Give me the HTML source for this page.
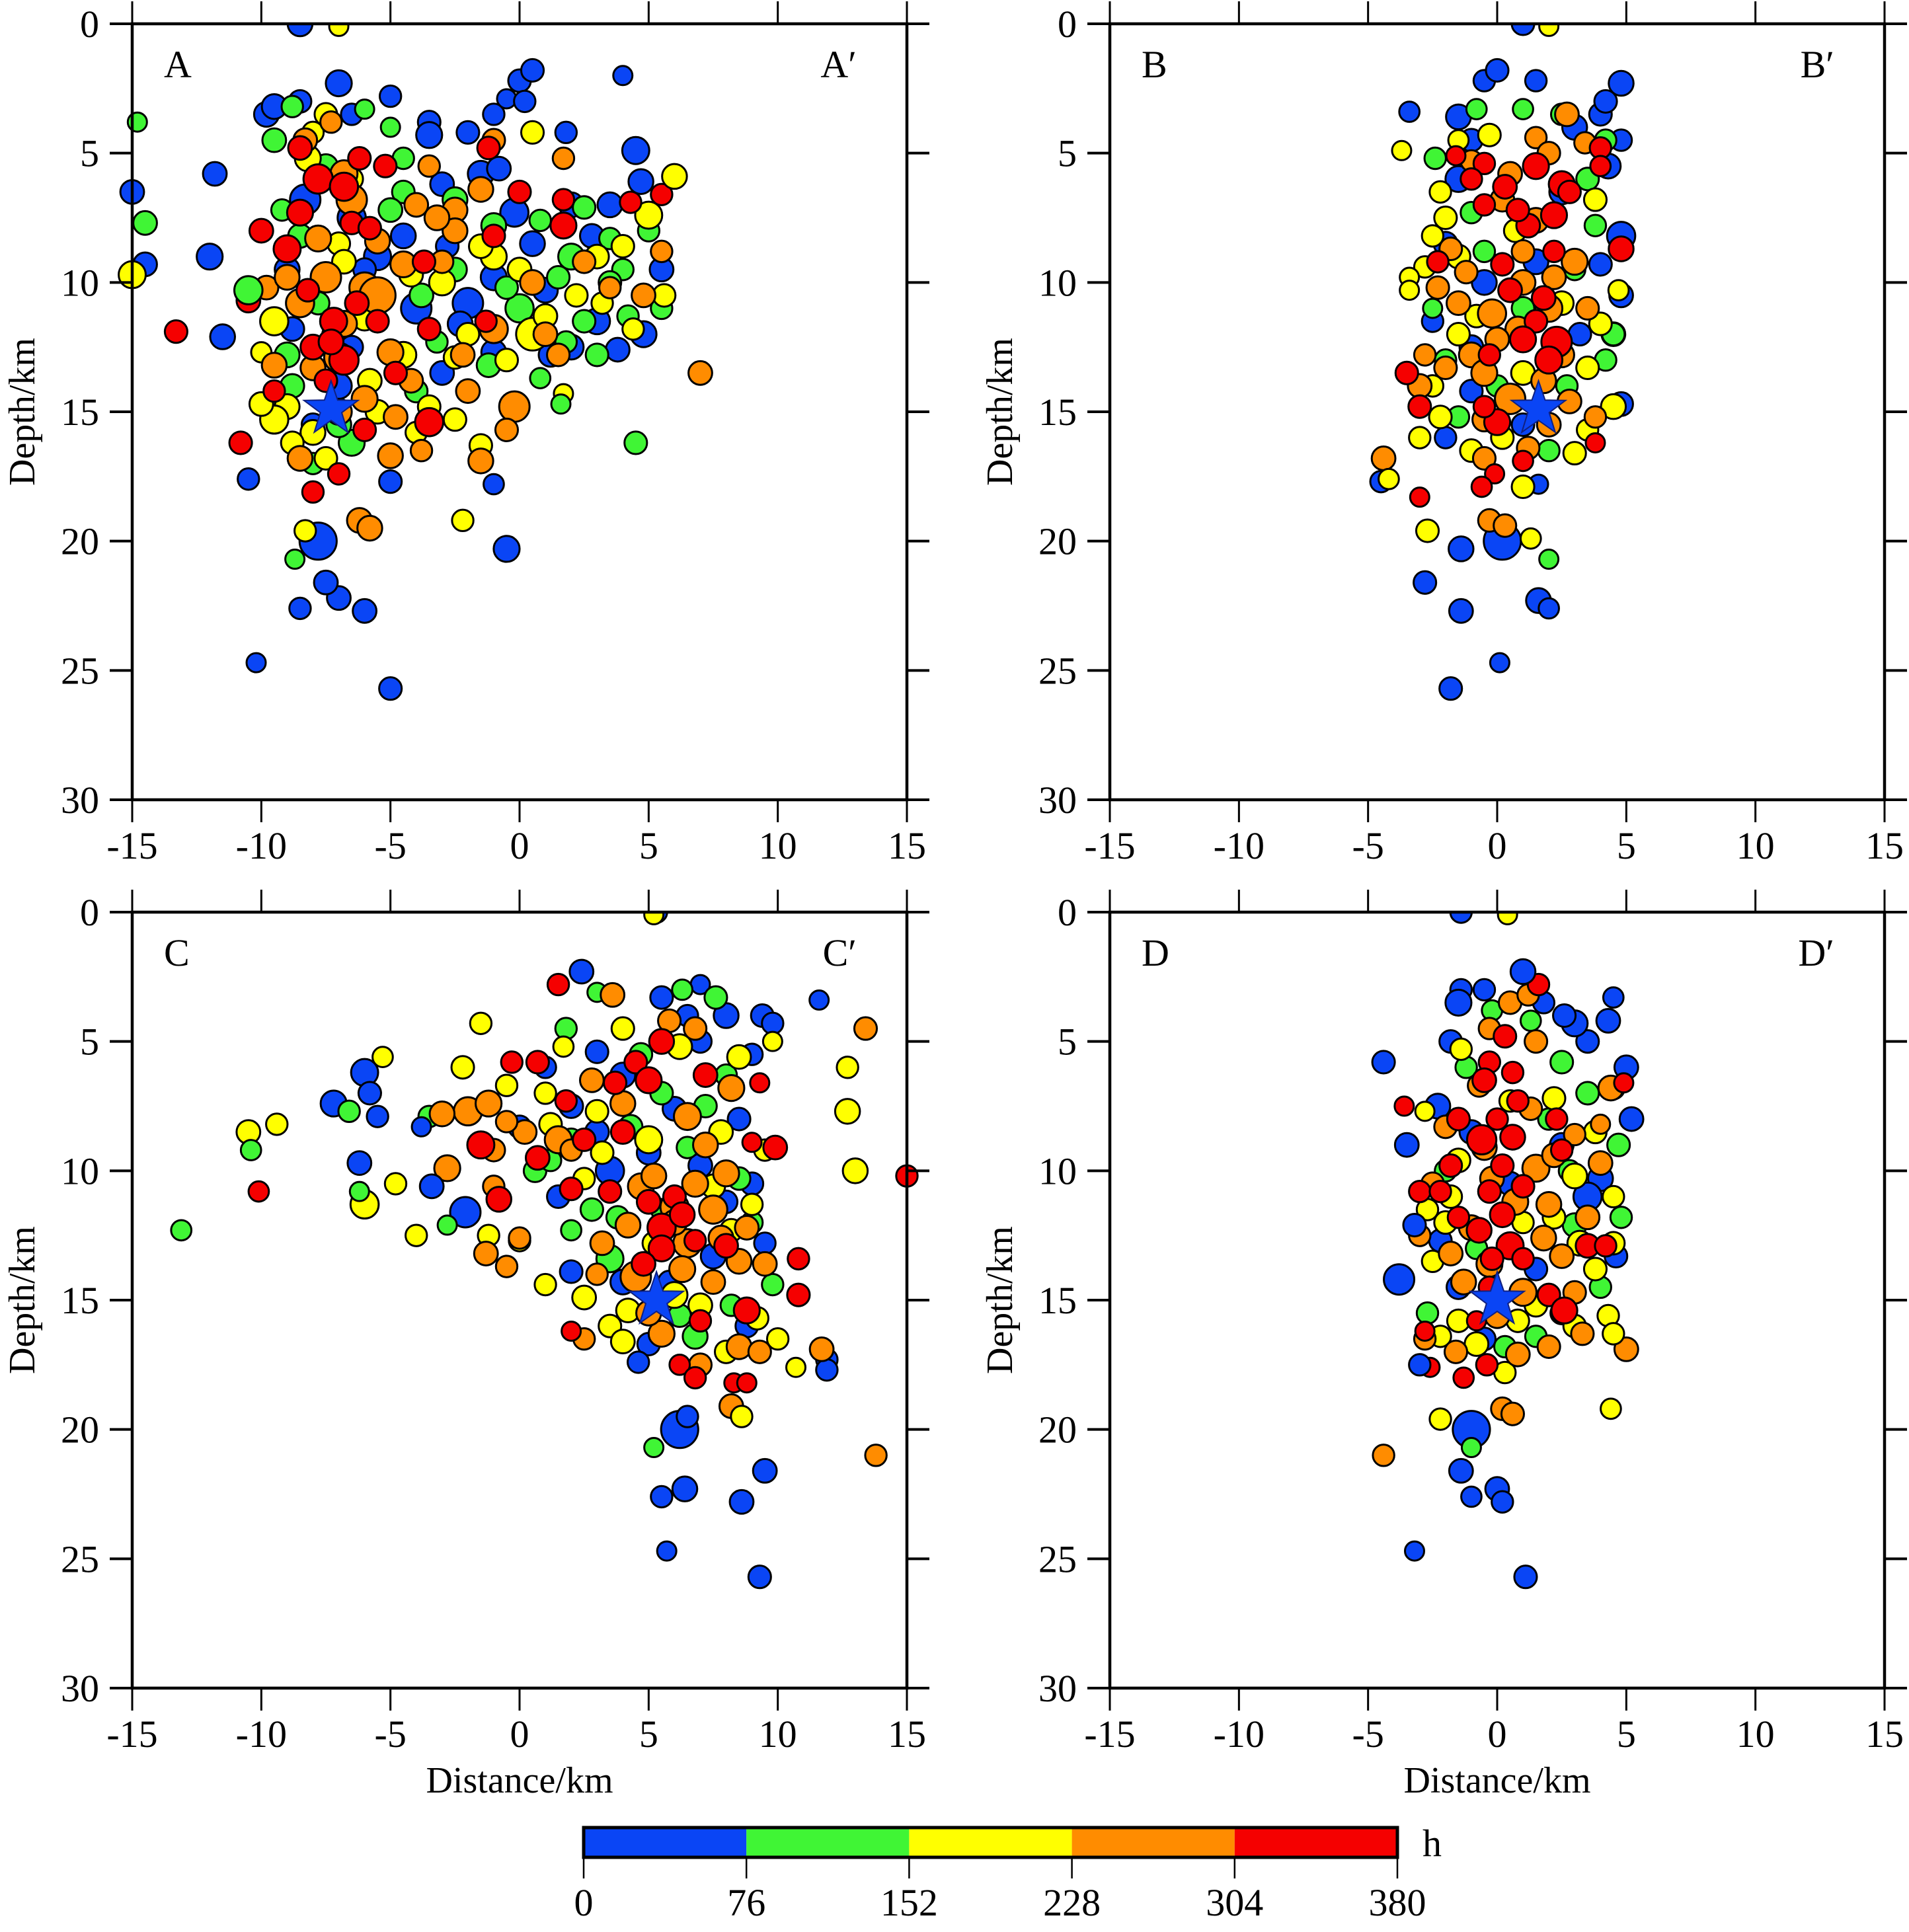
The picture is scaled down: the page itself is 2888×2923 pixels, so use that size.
<!DOCTYPE html>
<html><head><meta charset="utf-8"><style>
html,body{margin:0;padding:0;background:#fff;}
svg text{font-family:"Liberation Serif",serif;fill:#000;}
</style></head><body>
<svg id="fig" width="2888" height="2918" viewBox="0 0 2888 2918" xmlns="http://www.w3.org/2000/svg"></svg>
<script>
const xTicks=[-15,-10,-5,0,5,10,15];
const yTicks=[0,5,10,15,20,25,30];
const colorBreaks=[0,76,152,228,304,380];
const colorNames=["#0a45f5","#40f535","#ffff00","#ff8c00","#f50000"];
const panelNames=["A","B","C","D"];
const eventsA=[
[-9.8,3.5,40,1.5],[-9.5,3.2,40,1.5],[-8.5,3,40,1.3],[-7,2.3,40,1.6],[-5,2.8,40,1.2],[-6.5,3.5,40,1.2],[-3.5,3.8,40,1.3],[-3.5,4.3,40,1.6],[-2,4.2,40,1.3],[-1,3.5,40,1.2],[-0.5,2.9,40,1],[0,2.2,40,1.3],[0.5,1.8,40,1.3],[0.2,3,40,1.2],[1.8,4.2,40,1.2],[4,2,40,1],[4.5,4.9,40,1.7],[4.7,6.1,40,1.5],[5.5,9.5,40,1.4],[4.8,12,40,1.6],[2,12.5,40,1.5],[-1,12.7,40,1.5],[-4,11,40,2],[-5.5,9,40,1.7],[-8.3,6.8,40,2],[-6.5,7.5,40,1.8],[-1.5,5.8,40,1.6],[-0.2,7.3,40,1.8],[2,7,40,1.5],[3.5,7,40,1.5],[-2,10.8,40,2],[1,10.3,40,1.5],[3,11.5,40,1.6],[-9,9.5,40,1.5],[-8,15.5,40,1.3],[-5,17.7,40,1.3],[-3,13.5,40,1.4],[-7,14,40,1.6],
[-4.5,8.2,40,1.5],[-3,6.2,40,1.4],[-1,9.8,40,1.6],[0.5,8.5,40,1.5],[2.8,8.2,40,1.4],[-6,9.5,40,1.3],[-8.8,11.8,40,1.4],[-6.5,12.5,40,1.3],[-2.3,11.6,40,1.5],[1.2,12.8,40,1.4],[3.8,12.6,40,1.4],[-0.8,5.6,40,1.4],[-2.8,8.6,40,1.3],
[-9.5,4.5,115,1.4],[-8.8,3.2,115,1.2],[-6,3.3,115,1],[-5,4,115,1],[-7.5,5.5,115,1.4],[-4.5,6.5,115,1.3],[-2.5,6.8,115,1.5],[-1,7.8,115,1.5],[0.8,7.6,115,1.2],[2.5,7.1,115,1.3],[3.5,8.3,115,1.2],[4,9.5,115,1.2],[2,9,115,1.6],[3.5,10,115,1.3],[0,11,115,1.8],[2.5,11.5,115,1.3],[4.2,11.3,115,1.2],[1.8,12.3,115,1.2],[-1.2,13.2,115,1.4],[-4,14.2,115,1.3],[-6.5,16.2,115,1.6],[-9,12.8,115,1.5],[-9.2,7.2,115,1.2],[-5.5,10.8,115,1.4],[-2.5,9.5,115,1.4],[5,8,115,1.2],[5.5,11,115,1.2],[-7.2,12,115,1.3],[-3.2,12.3,115,1.2],[0.8,13.7,115,1.1],[-8,17,115,1.2],
[-8.5,8.2,115,1.4],[-7.8,10.8,115,1.3],[-5,7.2,115,1.4],[-3.8,10.5,115,1.4],[-0.5,10.2,115,1.3],[1.5,9.8,115,1.3],[3,12.8,115,1.3],[-8.8,14,115,1.4],[-7,15.5,115,1.5],[-4.5,5.2,115,1.2],
[-9,14.8,190,1.5],[-9.5,15.3,190,1.8],[-10,14.7,190,1.4],[-8,15.8,190,1.5],[-5.5,15,190,1.4],[-4,15.8,190,1.2],[-2.5,15.3,190,1.3],[-1.5,16.3,190,1.3],[-9.5,11.5,190,1.8],[-10,12.7,190,1.1],[-8.2,5.2,190,1.6],[-8,4.2,190,1.2],[-7.5,3.5,190,1.3],[-6.5,6,190,1.3],[-3,10,190,1.6],[-1,9,190,1.6],[0.5,4.2,190,1.3],[0.5,12,190,2.2],[-0.5,13,190,1.3],[1,11.3,190,1.4],[3,9,190,1.4],[4,8.6,190,1.3],[5,7.4,190,1.7],[5.6,10.5,190,1.3],[4.4,11.8,190,1.2],[-4.5,12.8,190,1.6],[-6,11.4,190,1.4],[-2.5,12.9,190,1.3],[-7,8.5,190,1.3],[-5.8,13.8,190,1.4],[1.7,14.3,190,1],
[-1.5,8.6,190,1.4],[-4.2,9.7,190,1.4],[-6.8,9.2,190,1.4],[-8.8,16.2,190,1.3],[-7.5,16.8,190,1.3],[2.2,10.5,190,1.3],[3.2,10.8,190,1.2],[-2,12,190,1.3],[-3.5,14.8,190,1.3],[0,9.5,190,1.4],
[-8.3,4.5,265,1.4],[-7.3,3.8,265,1.2],[-6.8,5.8,265,1.7],[-6.5,6.8,265,2],[-4,7,265,1.4],[-2.5,7.2,265,1.5],[-1.5,6.4,265,1.5],[-1,4.5,265,1.3],[1.7,5.2,265,1.2],[-7.5,9.8,265,2],[-8.5,10.8,265,1.8],[-6,10.2,265,2],[-5.5,10.5,265,2.5],[-4.5,9.3,265,1.6],[-9.8,10.2,265,1.4],[-9.5,13.2,265,1.5],[-7,12.9,265,1.9],[-5,12.7,265,1.6],[-6,14.5,265,1.6],[-8.5,16.8,265,1.5],[-5,16.7,265,1.5],[-3.8,16.5,265,1.2],[-2,14.2,265,1.4],[-1,11.8,265,1.8],[0.5,10,265,1.5],[1.5,12.8,265,1.3],[2.5,9.2,265,1.3],[-3,9.2,265,1.3],[-0.2,14.8,265,2],[-0.5,15.7,265,1.3],[-1.5,16.9,265,1.5],[3.5,10.2,265,1.2],[4.8,10.5,265,1.4],[5.5,8.8,265,1.2],[7,13.5,265,1.4],[-6.2,19.2,265,1.5],[-5.8,19.5,265,1.5],[-2.2,12.8,265,1.4],[-3.5,5.5,265,1.2],
[-7.8,8.3,265,1.6],[-5.5,8.4,265,1.5],[-6.8,11.6,265,1.6],[-8,13.3,265,1.5],[-4.2,13.8,265,1.4],[-2.5,8,265,1.5],[-7,15,265,1.6],[-9,9.8,265,1.5],[-3.2,7.5,265,1.5],[1,12,265,1.4],[-4.8,15.2,265,1.4],
[-9,8.7,340,1.7],[-8.5,4.8,340,1.4],[-8.5,7.3,340,1.6],[-7.8,6,340,1.9],[-6.8,6.3,340,1.8],[-6.5,7.7,340,1.3],[-5.8,7.9,340,1.3],[-5.2,5.5,340,1.3],[-10,8,340,1.4],[-10.5,10.7,340,1.4],[-10.8,16.2,340,1.3],[-9.5,14.2,340,1.2],[-8,12.5,340,1.5],[-7.2,11.5,340,1.7],[-6.8,13,340,1.9],[-7.5,13.8,340,1.3],[-6,15.7,340,1.3],[-7,17.4,340,1.2],[-8,18.1,340,1.2],[-3.5,15.4,340,1.8],[-4.8,13.5,340,1.3],[-3.5,11.8,340,1.3],[-3.7,9.2,340,1.3],[-1,8.2,340,1.3],[-1.2,4.8,340,1.3],[0,6.5,340,1.3],[1.7,7.8,340,1.6],[1.7,6.8,340,1.2],[4.3,6.9,340,1.2],[5.5,6.6,340,1.2],[-1.3,11.5,340,1.2],[-6.3,10.8,340,1.4],[-13.3,11.9,340,1.3],
[-7.3,12.3,340,1.5],[-5.5,11.5,340,1.3],[-8.2,10.3,340,1.3],[-6.2,5.2,340,1.3],
[-8.5,0,40,1.5],[-7,0.1,190,1],[-14.8,3.8,115,1],[-15,6.5,40,1.4],[-14.5,7.7,115,1.4],[-14.5,9.3,40,1.4],[-15,9.7,190,1.7],[-11.5,12.1,40,1.5],[-12,9,40,1.6],[-11.8,5.8,40,1.4],[-10.5,10.3,115,1.8],[-10.5,17.6,40,1.2],[-10.2,24.7,40,1],[-5,25.7,40,1.3],[-8.5,22.6,40,1.2],[-6,22.7,40,1.4],[-7,22.2,40,1.4],[-7.5,21.6,40,1.4],[-7.8,20,40,2.6],[-8.3,19.6,190,1.2],[-8.7,20.7,115,1],[-0.5,20.3,40,1.6],[-2.2,19.2,190,1.2],[-1,17.8,40,1.1],[1.6,14.7,115,1],[4.5,16.2,115,1.3],[6,5.9,190,1.5]];
const eventsB=[
[-1.5,3.6,40,1.5],[-0.5,2.2,40,1.2],[0,1.8,40,1.3],[1.5,2.2,40,1.2],[-1,4.5,40,1.3],[3,4,40,1.5],[4,3.5,40,1.3],[4.8,4.5,40,1.2],[4.3,5.5,40,1.5],[4.8,8.2,40,1.8],[4,9.3,40,1.3],[4.8,10.5,40,1.4],[4.5,12,40,1.4],[4.8,14.7,40,1.4],[-1.5,6,40,1.6],[-2,8.5,40,1.4],[-0.5,10,40,1.5],[1.5,9.2,40,1.5],[2.5,6.5,40,1.5],[-2.5,11.5,40,1.2],[-1,14.2,40,1.3],[1,15.5,40,1.3],[3.2,12,40,1.3],[-1,12.5,40,1.4],[-2,16,40,1.2],
[-0.8,3.3,115,1.1],[1,3.3,115,1.1],[2.5,3.5,115,1.2],[4.2,4.5,115,1.2],[3.5,6,115,1.3],[-2.4,5.2,115,1.2],[-1,7.3,115,1.2],[3,9.5,115,1.2],[4.2,13,115,1.2],[4.5,12,115,1.3],[-2.5,11,115,1],[-2,13,115,1.2],[0,14,115,1.2],[2,16.5,115,1.2],[-1.5,15.2,115,1.2],[1,11,115,1.3],[-0.5,8.8,115,1.2],[3.8,7.8,115,1.2],[2.7,14,115,1.2],
[-1.5,4.5,190,1.1],[-2,7.5,190,1.3],[-2.5,8.2,190,1.2],[-1.5,9,190,1.4],[-2.8,9.4,190,1.2],[-0.3,4.3,190,1.3],[0.7,8,190,1.3],[2.5,10.8,190,1.4],[4.7,10.3,190,1.1],[4.5,14.8,190,1.5],[4,11.6,190,1.3],[-2.5,14,190,1.2],[-3,16,190,1.2],[-2.2,15.2,190,1.3],[-1,16.5,190,1.3],[3.5,15.7,190,1.2],[3,16.6,190,1.3],[1,13.5,190,1.4],[-1.5,12,190,1.3],[2.4,12.3,190,1.3],
[3.5,13.3,190,1.3],[-0.8,11.3,190,1.3],[3.8,6.8,190,1.3],[-2.2,6.5,190,1.2],[0.2,16,190,1.3],
[2.7,3.5,265,1.4],[1.5,4.4,265,1.2],[0.5,5.8,265,1.4],[2,5,265,1.3],[3.4,4.6,265,1.2],[-1,5.3,265,1.2],[0.2,6.8,265,1.4],[1.5,7.6,265,1.5],[3,9.2,265,1.6],[-0.2,11.2,265,1.8],[1,10,265,1.5],[2,11,265,1.7],[-1.5,10.8,265,1.4],[-1,12.8,265,1.5],[0.5,14.5,265,2],[-0.5,13.5,265,1.6],[2.5,12.8,265,1.5],[-2,13.3,265,1.3],[-2.8,12.8,265,1.2],[-3,14,265,1.4],[2,15.5,265,1.4],[3.8,15.2,265,1.2],[1.2,16.4,265,1.3],[-0.5,16.8,265,1.3],[3.5,11,265,1.3],[-1.8,8.7,265,1.3],[-0.5,15.3,265,1.4],
[0.8,11.8,265,1.5],[1.8,13.8,265,1.5],[-1.2,9.6,265,1.3],[2.2,9.8,265,1.4],[0,12.2,265,1.4],[2.8,14.6,265,1.4],[-2.3,10.2,265,1.3],[1,8.8,265,1.3],
[-1.6,5.1,340,1],[-0.5,5.4,340,1.2],[1.5,5.5,340,1.6],[2.5,6.2,340,1.6],[0.3,6.3,340,1.4],[-0.5,7,340,1.2],[1.2,7.8,340,1.4],[2.2,7.4,340,1.6],[4,4.8,340,1.2],[4,5.5,340,1.1],[4.8,8.7,340,1.5],[-2.3,9.2,340,1.2],[0.2,9.3,340,1.3],[2.2,8.8,340,1.2],[0.5,10.3,340,1.4],[1.5,11.5,340,1.3],[2.3,12.3,340,2],[1,12.2,340,1.6],[-0.3,12.8,340,1.2],[2,13,340,1.7],[-3.5,13.5,340,1.3],[-3,14.8,340,1.3],[0,15.4,340,1.6],[-0.5,14.8,340,1.2],[1,16.9,340,1.1],[-0.1,17.4,340,1],[3.8,16.2,340,1],[-1,6,340,1.2],[2.8,6.5,340,1.3],
[1.8,10.6,340,1.4],[0.8,7.2,340,1.3],
[1,0,40,1.3],[2,0.1,190,1],[-3.4,3.4,40,1.1],[-3.7,4.9,190,1],[4.8,2.3,40,1.5],[4.2,3,40,1.3],[-3.4,9.8,190,1],[-3.4,10.3,190,1],[-4.5,17.7,40,1.2],[-4.4,16.8,265,1.4],[-4.2,17.6,190,1.1],[-3,18.3,340,1],[-2.7,19.6,190,1.3],[-2.8,21.6,40,1.3],[-1.4,20.3,40,1.5],[0.2,20,40,2.6],[1.3,19.9,190,1.1],[2,20.7,115,1],[1.6,22.3,40,1.5],[2,22.6,40,1.1],[-1.4,22.7,40,1.4],[0.1,24.7,40,1],[-1.8,25.7,40,1.3],[-0.3,19.2,265,1.3],[0.3,19.4,265,1.3],[-0.6,17.9,340,1.1],[1.6,17.8,40,1],[1,17.9,190,1.3]];
const eventsC=[
[2.4,2.3,40,1.4],[7,2.8,40,1],[5.5,3.3,40,1.3],[8,4,40,1.5],[6.5,4,40,1.2],[3,5.4,40,1.3],[1,6,40,1.2],[4,6.3,40,1.5],[7,5,40,1.3],[9,5.5,40,1.2],[2,7.5,40,1.4],[6,7.6,40,1.4],[8.5,8,40,1.3],[3.5,10,40,1.8],[5,9.3,40,1.4],[9,10.5,40,1.3],[2,13.9,40,1.3],[4,14.3,40,1.5],[7.5,13.3,40,1.5],[5,16.7,40,1.3],[4.6,17.4,40,1.2],[1.5,11,40,1.3],[0,8.3,40,1.3],[9.5,12.8,40,1.2],
[3,8.5,40,1.4],[7,9.8,40,1.4],[8,11.2,40,1.3],[5.8,14.3,40,1.3],[8.8,16,40,1.3],
[1.8,4.5,115,1.2],[3,3.1,115,1],[6.3,3,115,1.1],[7.6,3.3,115,1.3],[4.7,5.5,115,1.3],[8,6.3,115,1.2],[2,8.8,115,1.3],[4.3,8.3,115,1.4],[6.5,9.1,115,1.2],[8.5,10.3,115,1.3],[2.8,11.5,115,1.3],[3.5,13.4,115,1.7],[6.8,16.4,115,1.5],[8.2,15.2,115,1.2],[9.8,14.4,115,1.2],[0.6,10,115,1.3],[-3.5,7.9,115,1.2],[-3.8,8.3,40,1],[9,12,115,1.2],[5.5,11.5,115,1.2],[2,12.3,115,1.1],
[5.5,7,115,1.3],[7.2,7.5,115,1.3],[3.8,11.8,115,1.3],[6.2,15.6,115,1.3],[1.2,9.6,115,1.2],
[-1.5,4.3,190,1.2],[1.7,5.2,190,1.1],[4,4.5,190,1.3],[6.2,5.2,190,1.5],[8.5,5.6,190,1.4],[-2.2,6,190,1.3],[-0.5,6.7,190,1.2],[1,7,190,1.2],[3,7.7,190,1.3],[5,8.8,190,1.7],[7.8,8.5,190,1.4],[9.5,9.2,190,1.2],[-1.2,12.5,190,1.2],[1,14.4,190,1.2],[2.5,14.9,190,1.4],[3.5,16,190,1.3],[4,16.6,190,1.4],[7,15.2,190,1.4],[9.2,15.7,190,1.3],[10,16.5,190,1.2],[0,12.7,190,1.2],[6,14.8,190,1.6],[2.5,10.3,190,1.2],[9,11.3,190,1.2],
[3.2,9.3,190,1.3],[7.5,10.6,190,1.4],[8.2,12.3,190,1.3],[4.2,15.4,190,1.4],[5.2,12.8,190,1.3],[8,17,190,1.3],[1.2,8.2,190,1.3],
[3.6,3.2,265,1.4],[5.8,4.2,265,1.3],[6.8,4.5,265,1.3],[-2,7.7,265,1.8],[-1.2,7.4,265,1.6],[-3,7.8,265,1.5],[0.2,8.5,265,1.4],[-0.5,8.1,265,1.2],[1.5,8.8,265,1.7],[4,7.4,265,1.5],[6.5,7.9,265,1.7],[8.2,6.8,265,1.6],[-1,9.2,265,1.3],[-2.8,9.9,265,1.6],[-1,10.6,265,1.2],[0,12.6,265,1.2],[-0.5,13.7,265,1.2],[2,9.2,265,1.2],[4.7,10.6,265,1.6],[6,11.4,265,1.8],[7.5,11.5,265,1.8],[8,10.1,265,1.6],[6.5,12.8,265,1.8],[8.5,13.5,265,1.5],[4.2,12.1,265,1.5],[3,14,265,1.2],[5.5,16.3,265,1.6],[8.5,16.8,265,1.5],[9.3,17,265,1.3],[4.5,14.1,265,2],[7.5,14.3,265,1.4],[9.5,13.6,265,1.4],[-1.3,13.2,265,1.4],[7,17.5,265,1.3],[2.5,16.5,265,1.2],[6,12,265,1.5],
[6.8,10.5,265,1.6],[7.8,12.6,265,1.5],[5.2,10.2,265,1.5],[6.3,13.8,265,1.6],[8.8,12.2,265,1.4],[3.2,12.8,265,1.4],[5,15.5,265,1.5],[7.2,9,265,1.5],[2.8,6.5,265,1.4],
[1.5,2.8,340,1.2],[-0.3,5.8,340,1.2],[0.7,5.8,340,1.3],[4.5,5.8,340,1.3],[5,6.5,340,1.6],[7.2,6.3,340,1.4],[9.3,6.6,340,1],[5.5,5,340,1.5],[1.8,7.3,340,1.2],[3.7,6.6,340,1.3],[-1.5,9,340,1.7],[0.7,9.5,340,1.4],[2.5,8.8,340,1.3],[4,8.5,340,1.4],[9,8.9,340,1],[9.9,9.1,340,1.4],[-0.8,11.1,340,1.5],[2,10.7,340,1.3],[3.5,10.8,340,1.3],[5,11.2,340,1.4],[6,11,340,1.3],[5.5,12.2,340,1.8],[6.3,11.7,340,1.5],[5.5,13,340,1.6],[4.8,13.6,340,1.4],[6.8,12.7,340,1.2],[8,12.9,340,1.4],[2,16.2,340,1],[8.8,15.4,340,1.6],[6.2,17.5,340,1.1],[6.8,18,340,1.2],[7,15.8,340,1.2],
[5.3,0,40,1.2],[5.2,0.1,190,1],[11.6,3.4,40,1],[13.4,4.5,265,1.3],[12.7,6,190,1.2],[12.7,7.7,190,1.5],[13,10,190,1.5],[15,10.2,340,1.2],[9.4,4,40,1.3],[9.8,4.3,40,1.2],[9.8,5,190,1],[-10.5,8.5,190,1.4],[-10.4,9.2,115,1.1],[-9.4,8.2,190,1.2],[-10.1,10.8,340,1.1],[-13.1,12.3,115,1.1],[-7.2,7.4,40,1.6],[-6,6.2,40,1.7],[-5.8,7,40,1.3],[-5.5,7.9,40,1.2],[-6.6,7.7,115,1.2],[-5.3,5.6,190,1.1],[-6.2,9.7,40,1.4],[-6,11.3,190,1.8],[-6.2,10.8,115,1],[-4.8,10.5,190,1.2],[-3.4,10.6,40,1.4],[-2.1,11.6,40,2],[-4,12.5,190,1.2],[-2.8,12.1,115,1],[11.9,17.3,40,1.2],[11.9,17.7,40,1.2],[11.7,16.9,265,1.4],[10.7,17.6,190,1],[10.8,14.8,340,1.3],[10.8,13.4,340,1.2],[13.8,21,265,1.2],[6.2,20,40,2.6],[6.5,19.5,40,1.2],[9.5,21.6,40,1.4],[8.6,22.8,40,1.4],[6.4,22.3,40,1.5],[5.5,22.6,40,1.2],[5.7,24.7,40,1],[9.3,25.7,40,1.3],[5.2,20.7,115,1],[8.2,19.1,265,1.4],[8.6,19.5,190,1.2],[8.3,18.2,340,1],[8.8,18.2,340,1]];
const eventsD=[
[-1.4,3,40,1.2],[-0.5,3,40,1.2],[1.8,3.5,40,1.2],[-1.8,5,40,1.3],[3.5,5,40,1.3],[5,6,40,1.4],[4.5,6.8,40,1.3],[5.2,8,40,1.4],[-2.3,7.5,40,1.5],[-1,8.5,40,1.4],[2.5,9,40,1.4],[4,10.3,40,1.5],[3.5,11,40,1.8],[-2.2,12.7,40,1.3],[-1.5,14.5,40,1.4],[1.5,13.8,40,1.3],[4.6,13.3,40,1.3],[-0.5,16.5,40,1.3],[0.5,10.5,40,1.4],[2.5,15.5,40,1.3],
[-0.2,3.8,115,1.1],[1.3,4.2,115,1.1],[2.5,5.8,115,1.3],[-1.2,6,115,1.2],[3.5,7,115,1.3],[4.7,9,115,1.3],[2,8,115,1.2],[-2,10,115,1.2],[3,12.1,115,1.4],[4.8,11.8,115,1.2],[-2.7,15.5,115,1.2],[1.5,16.4,115,1.2],[4,14.5,115,1.2],[-0.8,13,115,1.2],[0.3,16.8,115,1.2],[2.8,10,115,1.2],
[-1.4,5.3,190,1.2],[-2.8,7.7,190,1],[-1.5,9.6,190,1.4],[0.5,7.3,190,1.2],[2.2,7.2,190,1.3],[3.8,8.5,190,1.3],[3,10.2,190,1.5],[4.5,11,190,1.2],[-2.7,11.5,190,1.2],[3.2,12.8,190,1.5],[4.5,12.8,190,1.3],[-2.5,13.5,190,1.2],[-1.5,15.8,190,1.3],[1.5,15.2,190,1.3],[-0.8,16.7,190,1.4],[0.3,17.8,190,1.2],[4.3,15.6,190,1.2],[-2.2,16.4,190,1.2],[1,12,190,1.2],[-1.8,11,190,1.3],
[2.2,11.8,190,1.3],[3.8,13.8,190,1.3],[-2,12,190,1.3],[0.8,15.8,190,1.3],[3,16,190,1.3],
[0.5,3.5,265,1.3],[1.2,3.2,265,1.2],[-0.3,4.5,265,1.2],[1.5,5,265,1.3],[4.4,6.8,265,1.5],[4,8.2,265,1],[3,8.6,265,1.2],[-2,8.3,265,1.3],[-0.5,9.1,265,1.5],[1.5,9.9,265,1.7],[-2.5,10.5,265,1.3],[0.7,11.2,265,1.6],[2,11.3,265,1.5],[-1,12.2,265,1.5],[-3,12.5,265,1.2],[-0.3,13.6,265,1.6],[2.5,13.3,265,1.4],[1,14.7,265,1.7],[-1.3,14.3,265,1.5],[3,14.7,265,1.3],[-2.8,16.5,265,1.2],[-1.6,17,265,1.3],[0.8,17.1,265,1.4],[2,16.8,265,1.3],[3.3,16.3,265,1.3],[4,9.7,265,1.4],[1.3,7.6,265,1.3],[-0.7,6.7,265,1.3],
[1.8,12.6,265,1.5],[-1.8,13.2,265,1.4],[0,15.6,265,1.5],[2.2,9.4,265,1.4],[-0.2,10.3,265,1.4],[3.5,11.8,265,1.4],
[1.6,2.8,340,1.2],[0.3,4.8,340,1.3],[-0.3,5.8,340,1.2],[0.6,6.2,340,1.2],[-0.5,6.5,340,1.4],[0.8,7.3,340,1.2],[-1.5,8,340,1.3],[0,8,340,1.2],[2.3,8,340,1.2],[4.9,6.6,340,1],[-0.6,8.8,340,1.9],[0.6,8.7,340,1.5],[-1.8,9.8,340,1.3],[0.2,9.8,340,1.3],[2.5,9.2,340,1.2],[-3,10.8,340,1.2],[-2.2,10.8,340,1.2],[-0.3,10.8,340,1.3],[1,10.6,340,1.3],[-1.5,11.8,340,1.2],[0.2,11.7,340,1.5],[-0.7,12.3,340,1.5],[0.5,12.9,340,1.7],[-0.2,13.4,340,1.3],[1,13.4,340,1.2],[3.5,12.9,340,1.4],[4.2,12.9,340,1.2],[2,14.8,340,1.3],[2.6,15.4,340,1.6],[-0.8,15.8,340,1],[-2.8,16.2,340,1],[-2.6,17.6,340,1],[-1.3,18,340,1.1],[-0.4,17.5,340,1.2],[-0.3,14.5,340,1.2],
[-1.4,0,40,1.2],[0.4,0.1,190,1],[-4.4,5.8,40,1.3],[-3.5,9,40,1.4],[-3.2,12.1,40,1.3],[-3.6,7.5,340,1],[-4.4,21,265,1.2],[-3.2,24.7,40,1],[1.1,25.7,40,1.3],[-1,20,40,2.6],[-1.4,21.6,40,1.4],[-1,22.6,40,1.1],[0,22.3,40,1.4],[0.2,22.8,40,1.2],[-2.2,19.6,190,1.2],[-1,20.7,115,1],[0.2,19.2,265,1.3],[0.6,19.4,265,1.3],[4.4,19.2,190,1.1],[5,16.9,265,1.4],[4.5,16.3,190,1.2],[4.5,3.3,40,1.1],[4.3,4.2,40,1.4],[3,4.3,40,1.6],[2.6,4,40,1.3],[-1.5,3.5,40,1.6],[1,2.3,40,1.5],[-3.8,14.2,40,2],[-3,17.5,40,1.2]];
const mainshockX=[-7.3,1.6,5.3,0];
const mainshockDepth=[14.9,14.9,15,15];

const NS="http://www.w3.org/2000/svg";
const svg=document.getElementById('fig');
function el(tag,attrs,parent){const e=document.createElementNS(NS,tag);for(const k in attrs)e.setAttribute(k,attrs[k]);(parent||svg).appendChild(e);return e;}
const panelLeft=[200,1679,200,1679], panelTop=[36,36,1380,1380], PW=1172, PH=1174;
const allEvents=[eventsA,eventsB,eventsC,eventsD];
function colorOf(h){for(let i=0;i<5;i++){if(h<colorBreaks[i+1])return colorNames[i];}return colorNames[4];}
for(let p=0;p<4;p++){
  const L=panelLeft[p],T=panelTop[p];
  const sx=v=>L+(v+15)/30*PW, sy=v=>T+v/30*PH;
  const g=el('g',{});
  
  
  const clipId='clip'+p;
  const cp=el('clipPath',{id:clipId},g);el('rect',{x:L-40,y:T,width:PW+80,height:PH+40},cp);
  const pts=el('g',{'clip-path':'url(#'+clipId+')'},g);
  
  
  for(const ev of allEvents[p]){
    const c=el('circle',{cx:sx(ev[0]),cy:sy(ev[1]),r:6+8.5*ev[3],fill:colorOf(ev[2]),stroke:'#000','stroke-width':3},pts);
    
    
  }
  const cx=sx(mainshockX[p]),cy=sy(mainshockDepth[p]);let d='';
  for(let i=0;i<10;i++){const r=i%2?17:43;const a=-Math.PI/2+i*Math.PI/5;d+=(i?'L':'M')+(cx+r*Math.cos(a)).toFixed(1)+','+(cy+r*Math.sin(a)).toFixed(1);}
  const st=el('path',{d:d+'Z',fill:'#0a45f5',stroke:'#102080','stroke-width':2},g);
  
  
  const fr=el('rect',{x:L,y:T,width:PW,height:PH,fill:'none',stroke:'#000','stroke-width':4.5},g);
  
  
  for(const t of xTicks){
    el('line',{x1:sx(t),x2:sx(t),y1:T,y2:T-34,stroke:'#000','stroke-width':3},g);
    el('line',{x1:sx(t),x2:sx(t),y1:T+PH,y2:T+PH+34,stroke:'#000','stroke-width':3},g);
    const tx=el('text',{x:sx(t),y:T+PH+89,'font-size':58,'text-anchor':'middle'},g);
    tx.textContent=t;
    
    
  }
  for(const t of yTicks){
    el('line',{x1:L,x2:L-34,y1:sy(t),y2:sy(t),stroke:'#000','stroke-width':4},g);
    el('line',{x1:L+PW,x2:L+PW+34,y1:sy(t),y2:sy(t),stroke:'#000','stroke-width':4},g);
    const ty=el('text',{x:L-50,y:sy(t)+20,'font-size':58,'text-anchor':'end'},g);
    ty.textContent=t;
    
    
  }
  const yt=el('text',{x:0,y:0,'font-size':56,'text-anchor':'middle',transform:`translate(${L-148},${T+PH/2}) rotate(-90)`},g);
  yt.textContent='Depth/km';
  
  
  if(p>=2){
    const xt=el('text',{x:L+PW/2,y:T+PH+158,'font-size':56,'text-anchor':'middle'},g);
    xt.textContent='Distance/km';
    
    
  }
  const la=el('text',{x:L+48,y:T+81,'font-size':58},g);
  la.textContent=panelNames[p];
  
  
  const lb=el('text',{x:L+PW-76,y:T+81,'font-size':58,'text-anchor':'end'},g);
  lb.textContent=panelNames[p]+'\u2032';
  
  
}
const cb=el('g',{});


const CX0=883,CX1=2114,CY0=2765,CY1=2810;
const cxs=v=>CX0+(v-colorBreaks[0])/(colorBreaks[5]-colorBreaks[0])*(CX1-CX0);
for(let i=0;i<5;i++){
  const r=el('rect',{x:cxs(colorBreaks[i]),y:CY0,width:cxs(colorBreaks[i+1])-cxs(colorBreaks[i]),height:CY1-CY0,fill:colorNames[i]},cb);
  
  
}
el('rect',{x:CX0,y:CY0,width:CX1-CX0,height:CY1-CY0,fill:'none',stroke:'#000','stroke-width':5},cb);
for(const v of colorBreaks){
  el('line',{x1:cxs(v),x2:cxs(v),y1:CY1,y2:CY1+32,stroke:'#000','stroke-width':2.5},cb);
  const t=el('text',{x:cxs(v),y:2898,'font-size':58,'text-anchor':'middle'},cb);
  t.textContent=v;
  
  
}
const hl=el('text',{x:2152,y:2808,'font-size':58},cb);
hl.textContent='h';


</script>
</body></html>
